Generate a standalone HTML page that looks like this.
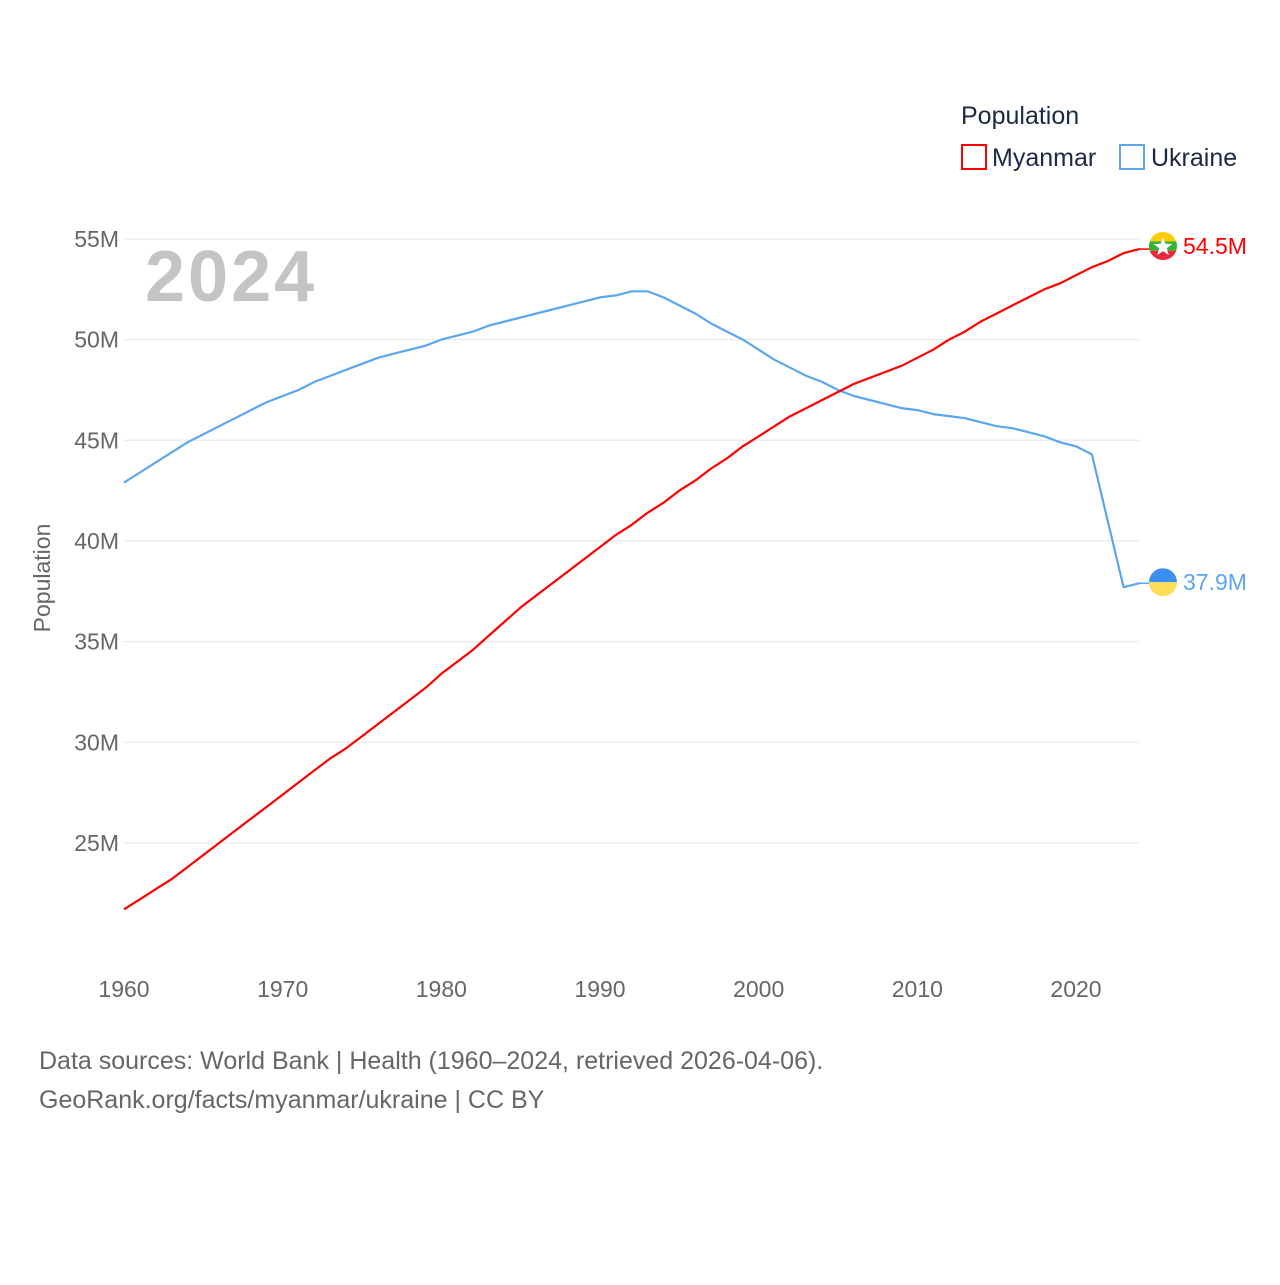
<!DOCTYPE html>
<html><head><meta charset="utf-8">
<style>
html,body{margin:0;padding:0;background:#fff;}
body{width:1280px;height:1280px;overflow:hidden;font-family:"Liberation Sans",sans-serif;}
svg text{font-family:"Liberation Sans",sans-serif;}
</style></head>
<body>
<svg id="chart" width="1280" height="1280" viewBox="0 0 1280 1280">
  <g id="grid"></g>
  <g id="yticks"></g>
  <g id="xticks"></g>
  <text x="145" y="301" font-size="72" font-weight="bold" fill="#c4c4c4" letter-spacing="3">2024</text>
  <text transform="translate(50,578) rotate(-90)" text-anchor="middle" font-size="23" fill="#666">Population</text>
  <g id="series"></g>
  <g>
    <text x="961" y="124" font-size="25" fill="#1a2a44">Population</text>
    <g>
      <rect x="962" y="145" width="24" height="24" fill="none" stroke="#ff0000" stroke-width="2"/>
      <text x="992" y="166" font-size="25" fill="#1a2a44">Myanmar</text>
    </g>
    <g>
      <rect x="1120" y="145" width="24" height="24" fill="none" stroke="#5aa6f0" stroke-width="2"/>
      <text x="1151" y="166" font-size="25" fill="#1a2a44">Ukraine</text>
    </g>
  </g>
  <g id="ends"></g>
  <text x="39" y="1069" font-size="25" fill="#666">Data sources: World Bank | Health (1960–2024, retrieved 2026-04-06).</text>
  <text x="39" y="1108" font-size="25" fill="#666">GeoRank.org/facts/myanmar/ukraine | CC BY</text>
</svg>
<script>
const years = [];
for (let y = 1960; y <= 2024; y++) years.push(y);
const myanmar = [21.7,22.2,22.7,23.2,23.8,24.4,25.0,25.6,26.2,26.8,27.4,28.0,28.6,29.2,29.7,30.3,30.9,31.5,32.1,32.7,33.4,34.0,34.6,35.3,36.0,36.7,37.3,37.9,38.5,39.1,39.7,40.3,40.8,41.4,41.9,42.5,43.0,43.6,44.1,44.7,45.2,45.7,46.2,46.6,47.0,47.4,47.8,48.1,48.4,48.7,49.1,49.5,50.0,50.4,50.9,51.3,51.7,52.1,52.5,52.8,53.2,53.6,53.9,54.3,54.5];
const ukraine = [42.9,43.4,43.9,44.4,44.9,45.3,45.7,46.1,46.5,46.9,47.2,47.5,47.9,48.2,48.5,48.8,49.1,49.3,49.5,49.7,50.0,50.2,50.4,50.7,50.9,51.1,51.3,51.5,51.7,51.9,52.1,52.2,52.4,52.4,52.1,51.7,51.3,50.8,50.4,50.0,49.5,49.0,48.6,48.2,47.9,47.5,47.2,47.0,46.8,46.6,46.5,46.3,46.2,46.1,45.9,45.7,45.6,45.4,45.2,44.9,44.7,44.3,41.0,37.7,37.9];
const yTicks = [25,30,35,40,45,50,55];
const xTicks = [1960,1970,1980,1990,2000,2010,2020];

const NS = "http://www.w3.org/2000/svg";
const xS = y => 124 + (y - 1960) * (1076 - 124) / 60;
const yS = v => 239 + (55 - v) * 20.13;
function mk(tag, attrs, parent){ const e=document.createElementNS(NS,tag); for(const k in attrs) e.setAttribute(k,attrs[k]); parent.appendChild(e); return e; }

const grid=document.getElementById('grid'), yt=document.getElementById('yticks'), xt=document.getElementById('xticks');
yTicks.forEach(v=>{
  const l=mk('line',{x1:124,x2:1139,y1:yS(v),y2:yS(v),stroke:'#e6e6e6','stroke-width':1},grid);
  
  
  const t=mk('text',{x:119,y:yS(v)+8,'text-anchor':'end','font-size':23,fill:'#666'},yt);
  t.textContent=v+'M';
  
  
});
xTicks.forEach(y=>{
  const t=mk('text',{x:xS(y),y:997,'text-anchor':'middle','font-size':23,fill:'#666'},xt);
  t.textContent=y;
  
  
});

const series=document.getElementById('series');
function line(vals,color,name){
  const d=vals.map((v,i)=>(i?'L':'M')+xS(years[i]).toFixed(1)+','+yS(v).toFixed(1)).join(' ');
  const p=mk('path',{d:d,fill:'none',stroke:color,'stroke-width':2.2,'stroke-linejoin':'round'},series);
  
  
}
line(ukraine,'#5aa6f0','ukraine-line');
line(myanmar,'#ff0000','myanmar-line');

const ends=document.getElementById('ends');
function endLabel(vals,color,name,flag,dy){
  const v=vals[vals.length-1], y=yS(v), x0=xS(2024);
  mk('line',{x1:x0,x2:1150,y1:y,y2:y,stroke:color,'stroke-width':1.5},ends);
  const g=mk('g',{},ends);
  
  
  flag(g,1163,y+dy);
  const t=mk('text',{x:1183,y:y+dy+8,'font-size':23,fill:color},ends);
  t.textContent=v.toFixed(1)+'M';
  
  
}
endLabel(myanmar,'#ff0000','myanmar',(g,cx,cy)=>{
  const r=14;
  const cp=mk('clipPath',{id:'cm'},g); mk('circle',{cx:cx,cy:cy,r:r},cp);
  const h=mk('g',{'clip-path':'url(#cm)'},g);
  mk('rect',{x:cx-r,y:cy-r,width:2*r,height:2*r/3,fill:'#fecb00'},h);
  mk('rect',{x:cx-r,y:cy-r/3,width:2*r,height:2*r/3,fill:'#34b233'},h);
  mk('rect',{x:cx-r,y:cy+r/3,width:2*r,height:2*r/3,fill:'#ea2839'},h);
  const pts=[];for(let i=0;i<10;i++){const a=-Math.PI/2+i*Math.PI/5,rr=i%2?4:10;pts.push((cx+rr*Math.cos(a)).toFixed(1)+','+(cy+1+rr*Math.sin(a)).toFixed(1));}
  mk('polygon',{points:pts.join(' '),fill:'#fff'},h);
},-3);
endLabel(ukraine,'#5aa6f0','ukraine',(g,cx,cy)=>{
  const r=14;
  const cp=mk('clipPath',{id:'cu'},g); mk('circle',{cx:cx,cy:cy,r:r},cp);
  const h=mk('g',{'clip-path':'url(#cu)'},g);
  mk('rect',{x:cx-r,y:cy-r,width:2*r,height:r,fill:'#3b8ff0'},h);
  mk('rect',{x:cx-r,y:cy,width:2*r,height:r,fill:'#ffdd55'},h);
},-1);
</script>
</body></html>
